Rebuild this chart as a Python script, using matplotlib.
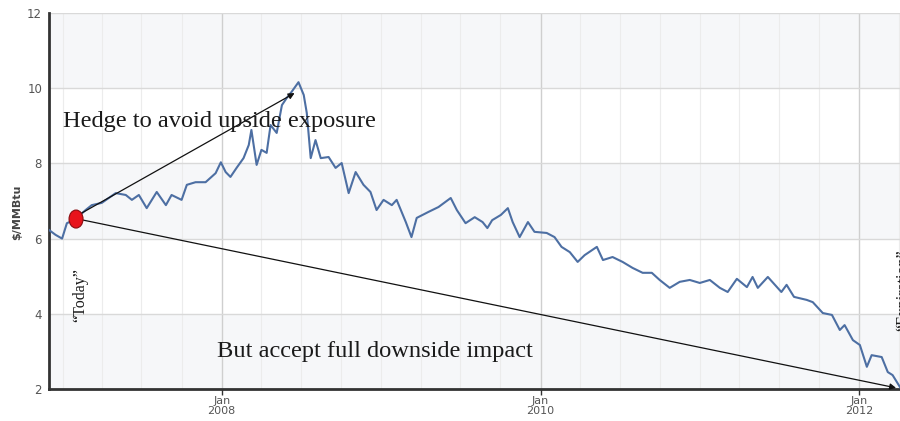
import matplotlib
matplotlib.use("Agg")
import matplotlib.pyplot as plt
import matplotlib.dates as mdates
import matplotlib.transforms as mtransforms
from matplotlib.patches import Ellipse
import pandas as pd

# ---- data ----
dates = [
    "2006-12-01", "2006-12-16", "2006-12-31", "2007-01-11", "2007-01-29", "2007-02-23",
    "2007-03-09", "2007-04-01", "2007-05-03", "2007-05-26", "2007-06-09", "2007-06-25",
    "2007-07-13", "2007-08-05", "2007-08-26", "2007-09-08", "2007-10-01", "2007-10-13",
    "2007-11-02", "2007-11-25", "2007-12-18", "2007-12-30", "2008-01-10", "2008-01-21",
    "2008-02-04", "2008-02-20", "2008-03-03", "2008-03-09", "2008-03-21", "2008-04-01",
    "2008-04-13", "2008-04-22", "2008-05-06", "2008-05-18", "2008-05-29", "2008-06-09",
    "2008-06-25", "2008-07-07", "2008-07-14", "2008-07-23", "2008-08-03", "2008-08-15",
    "2008-09-02", "2008-09-18", "2008-10-02", "2008-10-18", "2008-11-03", "2008-11-21",
    "2008-12-07", "2008-12-21", "2009-01-06", "2009-01-25", "2009-02-05", "2009-02-26",
    "2009-03-11", "2009-03-23", "2009-04-19", "2009-05-12", "2009-06-09", "2009-06-23",
    "2009-07-13", "2009-08-03", "2009-08-21", "2009-09-01", "2009-09-12", "2009-10-02",
    "2009-10-18", "2009-10-29", "2009-11-14", "2009-12-03", "2009-12-18", "2010-01-15",
    "2010-02-02", "2010-02-18", "2010-03-09", "2010-03-27", "2010-04-12", "2010-05-10",
    "2010-05-24", "2010-06-15", "2010-07-08", "2010-07-31", "2010-08-23", "2010-09-13",
    "2010-10-01", "2010-10-24", "2010-11-16", "2010-12-09", "2011-01-01", "2011-01-24",
    "2011-02-16", "2011-03-06", "2011-03-27", "2011-04-19", "2011-05-02", "2011-05-14",
    "2011-06-06", "2011-07-07", "2011-07-19", "2011-08-05", "2011-09-03", "2011-09-17",
    "2011-10-10", "2011-10-31", "2011-11-18", "2011-11-29", "2011-12-18", "2012-01-03",
    "2012-01-19", "2012-01-30", "2012-02-22", "2012-03-07", "2012-03-18", "2012-04-04",
]
prices = [
    6.23, 6.10, 6.00, 6.41, 6.50, 6.76,
    6.89, 6.95, 7.21, 7.16, 7.03, 7.16,
    6.81, 7.24, 6.89, 7.16, 7.03, 7.43,
    7.50, 7.50, 7.74, 8.03, 7.77, 7.64,
    7.88, 8.14, 8.49, 8.89, 7.96, 8.36,
    8.28, 9.02, 8.81, 9.55, 9.74, 9.90,
    10.16, 9.82, 9.34, 8.14, 8.62, 8.14,
    8.17, 7.88, 8.01, 7.21, 7.77, 7.43,
    7.24, 6.76, 7.03, 6.89, 7.03, 6.44,
    6.04, 6.55, 6.71, 6.84, 7.08, 6.76,
    6.41, 6.57, 6.44, 6.28, 6.49, 6.63,
    6.81, 6.44, 6.04, 6.44, 6.18, 6.15,
    6.04, 5.78, 5.64, 5.38, 5.56, 5.78,
    5.43, 5.51, 5.38, 5.22, 5.09, 5.09,
    4.90, 4.69, 4.85, 4.90, 4.82, 4.90,
    4.69, 4.58, 4.93, 4.71, 4.98, 4.69,
    4.98, 4.58, 4.77, 4.45, 4.37, 4.31,
    4.02, 3.97, 3.57, 3.70, 3.30, 3.17,
    2.59, 2.90, 2.85, 2.45, 2.37, 2.05,
]
today_date, today_price = "2007-02-01", 6.52
up_arrow = (("2007-02-14", 6.68), ("2008-06-16", 9.87))
down_arrow = (("2007-02-14", 6.50), ("2012-03-26", 2.03))
x_range = ("2006-12-01", "2012-04-04")
y_ticks = [2, 4, 6, 8, 10, 12]
x_major = ["2008-01-01", "2010-01-01", "2012-01-01"]
x_major_labels = ["Jan\n2008", "Jan\n2010", "Jan\n2012"]

d = pd.to_datetime(dates)
td = pd.to_datetime(today_date)

fig = plt.figure(figsize=(9, 4.21), dpi=100)
ax = fig.add_axes([49 / 900, 1 - 389 / 421, 1 - 49 / 900, (389 - 13) / 421])

# alternating bands
for lo in (2, 6, 10):
    ax.axhspan(lo, lo + 2, color="#f6f7f9", zorder=0, lw=0)

ax.set_xlim(pd.to_datetime(x_range[0]), pd.to_datetime(x_range[1]))
ax.set_ylim(2, 12)
ax.set_yticks(y_ticks)
ax.set_yticklabels([str(t) for t in y_ticks], color="#555555", fontsize=8.5)
ax.tick_params(axis="y", length=0, pad=5)

ax.set_xticks(pd.to_datetime(x_major))
ax.set_xticklabels(x_major_labels, color="#555555", fontsize=8, linespacing=1.05)
ax.xaxis.set_minor_locator(mdates.MonthLocator(bymonth=[1, 4, 7, 10]))
ax.tick_params(axis="x", which="major", length=4, width=1, color="#333333", pad=1)
ax.tick_params(axis="x", which="minor", length=0)

ax.grid(axis="y", color="#d9d9d9", lw=1, zorder=1)
ax.grid(axis="x", which="major", color="#cfcfcf", lw=1, zorder=1)
ax.grid(axis="x", which="minor", color="#ececec", lw=0.8, zorder=1)
ax.set_axisbelow(True)

for s in ("top", "right"):
    ax.spines[s].set_visible(False)
for s in ("left", "bottom"):
    ax.spines[s].set_color("#333333")
    ax.spines[s].set_linewidth(2)

ax.plot(d, prices, color="#4d6fa3", lw=1.5, zorder=3)

# arrows
for (s, e) in (up_arrow, down_arrow):
    ax.annotate("", xy=(pd.to_datetime(e[0]), e[1]), xytext=(pd.to_datetime(s[0]), s[1]),
                arrowprops=dict(arrowstyle="-|>", color="#111111", lw=0.9,
                                mutation_scale=9, shrinkA=0, shrinkB=0),
                zorder=4, annotation_clip=False)

# red "today" dot
tr = fig.dpi_scale_trans + mtransforms.ScaledTranslation(mdates.date2num(td), today_price, ax.transData)
ax.add_patch(Ellipse((0, 0), 0.14, 0.18, transform=tr, facecolor="#e8141c",
                     edgecolor="#8a0c10", lw=0.8, zorder=5))

serif = ["Liberation Serif", "DejaVu Serif"]
fig.text(63 / 900, 1 - 121 / 421, "Hedge to avoid upside exposure", family=serif,
         fontsize=17.6, color="#1a1a1a", va="center", ha="left")
fig.text(217 / 900, 1 - 351 / 421, "But accept full downside impact", family=serif,
         fontsize=17.6, color="#1a1a1a", va="center", ha="left")
fig.text(80 / 900, 1 - 295 / 421, "\u201cToday\u201d", family=serif, fontsize=11.5,
         rotation=90, va="center", ha="center", color="#1a1a1a")
fig.text(903 / 900, 1 - 290 / 421, "\u201cExpiration\u201d", family=serif, fontsize=11.5,
         rotation=90, va="center", ha="center", color="#1a1a1a")

fig.text(17 / 900, 1 - 212 / 421, "$/MMBtu", rotation=90, fontsize=8, fontweight="bold",
         color="#444444", va="center", ha="center")

fig.savefig("out.png", dpi=100)
